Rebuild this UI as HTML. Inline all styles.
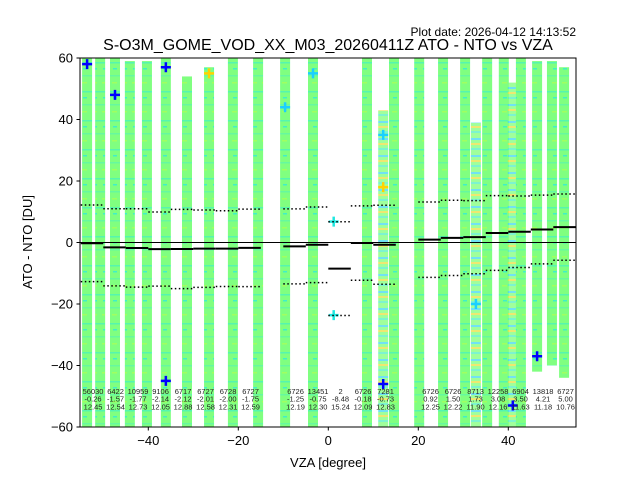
<!DOCTYPE html>
<html><head><meta charset="utf-8"><style>
html,body{margin:0;padding:0;background:#fff;}
svg{display:block;font-family:"Liberation Sans","DejaVu Sans",sans-serif;}
</style></head><body>
<svg id="chart" width="640" height="480" viewBox="0 0 640 480">
<defs>
<pattern id="tex" width="10" height="29" patternUnits="userSpaceOnUse">
<rect width="10" height="29" fill="#80ff80"/>
<rect y="4" width="10" height="1.5" fill="#55f5b0"/>
<rect x="3" y="10" width="4" height="1.5" fill="#40f0c8"/>
<rect y="17" width="10" height="1.5" fill="#66f8a0"/>
<rect x="2" y="24" width="5" height="1.5" fill="#a0ff60"/>
</pattern>
<pattern id="tex2" width="10" height="17" patternUnits="userSpaceOnUse">
<rect width="10" height="17" fill="#80ff7a"/>
<rect y="2" width="10" height="2" fill="#40d8f0"/>
<rect y="7" width="10" height="2" fill="#e8e040"/>
<rect y="12" width="10" height="2" fill="#50f0c0"/>
</pattern>
<clipPath id="plotclip"><rect x="80" y="58" width="496" height="369"/></clipPath>
</defs>
<text x="576" y="36" text-anchor="end" font-size="12">Plot date: 2026-04-12 14:13:52</text>
<text x="328" y="50" text-anchor="middle" font-size="16">S-O3M_GOME_VOD_XX_M03_20260411Z ATO - NTO vs VZA</text>
<g id="plot" clip-path="url(#plotclip)"></g>
<rect x="80" y="58" width="496" height="369" fill="none" stroke="#000" stroke-width="1"/>
<g id="axes"></g>
<text x="328" y="467" text-anchor="middle" font-size="13">VZA [degree]</text>
<text x="32" y="242" text-anchor="middle" font-size="13" transform="rotate(-90 32 242)">ATO - NTO [DU]</text>
</svg>
<script>
const colVza = [-53.6,-50.7,-47.4,-44.1,-40.3,-36.1,-31.4,-26.5,-21.2,-15.6,-9.6,-3.4,8.6,12.2,14.6,20.2,25.5,30.4,32.8,35.3,39.0,41.0,42.8,46.4,49.7,52.4];
const colTop = [60,60,60,59,59,60,54,57,60,60,60,60,60,43,60,60,60,60,39,60,60,52,60,59,59,57];
const colBot = [-60,-60,-60,-60,-60,-60,-60,-60,-60,-60,-60,-60,-60,-60,-60,-60,-60,-60,-60,-60,-60,-60,-60,-42,-40,-44];
const colSparse = [0,0,0,0,0,0,0,0,0,0,0,0,0,1,0,0,0,0,1,0,0,1,0,0,0,0];
const binCenters = [-52.5,-47.5,-42.5,-37.5,-32.5,-27.5,-22.5,-17.5,-7.5,-2.5,2.5,7.5,12.5,22.5,27.5,32.5,37.5,42.5,47.5,52.5];
const binCounts = ["56030","6422","10959","9106","6717","6727","6728","6727","6726","13451","2","6726","7281","6726","6726","8713","12258","6904","13818","6727"];
const binMeans = [-0.26,-1.57,-1.77,-2.14,-2.12,-2.01,-2.00,-1.75,-1.25,-0.75,-8.48,-0.18,-0.73,0.92,1.50,1.73,3.08,3.50,4.21,5.00];
const binStds = [12.45,12.54,12.73,12.05,12.88,12.58,12.31,12.59,12.19,12.30,15.24,12.09,12.83,12.25,12.22,11.90,12.16,11.63,11.18,10.76];
const extraVza = [1.2,1.2,-53.6,-47.4,-36.1,-36.1,-26.5,12.2,12.2,41.0,46.4,-9.6,-3.4,32.8,12.2];
const extraVal = [6.8,-23.6,58,48,57,-45,55,-46,35,-53,-37,44,55,-20,18];
const extraCol = ["#1ee8e0","#1ee8e0","#0000ff","#0000ff","#0000ff","#0000ff","#ffd200","#0000ff","#1ad0ff","#0000ff","#0000ff","#1ad0ff","#1ad0ff","#1ad0ff","#ffd200"];
const xTicks = [-40,-20,0,20,40];
const yTicks = [-60,-40,-20,0,20,40,60];

const NS="http://www.w3.org/2000/svg";
const X = v => 328.3 + v*4.5;
const Y = v => 242.5 - v*3.075;
const plot=document.getElementById('plot'), axes=document.getElementById('axes');
function mk(tag,attrs,parent){const e=document.createElementNS(NS,tag);for(const k in attrs)e.setAttribute(k,attrs[k]);parent.appendChild(e);return e;}

colVza.forEach((v,i)=>{
  const r=mk('rect',{x:X(v)-5,y:Y(colTop[i]),width:10,height:Y(colBot[i])-Y(colTop[i]),fill:colSparse[i]?'url(#tex2)':'url(#tex)',opacity:colSparse[i]?0.75:1},plot);
  
  
});
extraVza.forEach((v,i)=>{
  const g=mk('path',{d:`M${X(v)-5},${Y(extraVal[i])}h10M${X(v)},${Y(extraVal[i])-5}v10`,stroke:extraCol[i],'stroke-width':2.5},plot);
  
  
});
const zl=mk('line',{x1:80,x2:576,y1:Y(0),y2:Y(0),stroke:'#000','stroke-width':1},plot);


binCenters.forEach((c,i)=>{
  const x1=X(c-2.5),x2=X(c+2.5);
  const m=mk('line',{x1:x1,x2:x2,y1:Y(binMeans[i]),y2:Y(binMeans[i]),stroke:'#000','stroke-width':2},plot);
  
  
  [1,-1].forEach(s=>{
    const d=mk('line',{x1:x1,x2:x2,y1:Y(binMeans[i]+s*binStds[i]),y2:Y(binMeans[i]+s*binStds[i]),stroke:'#000','stroke-width':1.5,'stroke-dasharray':'1.5,2.5'},plot);
    
    
  });
  const t=mk('text',{x:X(c)+1,y:394,'text-anchor':'middle','font-size':7.5,fill:'#222'},plot);
  
  
  [binCounts[i],binMeans[i].toFixed(2),binStds[i].toFixed(2)].forEach((s,j)=>{
    const ts=mk('tspan',{x:X(c)+1,dy:j?7.7:0},t);ts.textContent=s;
  });
});
xTicks.forEach(v=>{
  mk('line',{x1:X(v),x2:X(v),y1:427,y2:430.5,stroke:'#000'},axes);
  const t=mk('text',{x:X(v),y:445,'text-anchor':'middle','font-size':13},axes);
  t.textContent=(v<0?'\u2212':'')+Math.abs(v);
  
  
});
yTicks.forEach(v=>{
  mk('line',{x1:76.5,x2:80,y1:Y(v),y2:Y(v),stroke:'#000'},axes);
  const t=mk('text',{x:73,y:Y(v)+4.5,'text-anchor':'end','font-size':13},axes);
  t.textContent=(v<0?'\u2212':'')+Math.abs(v);
  
  
});
</script>
</body></html>
